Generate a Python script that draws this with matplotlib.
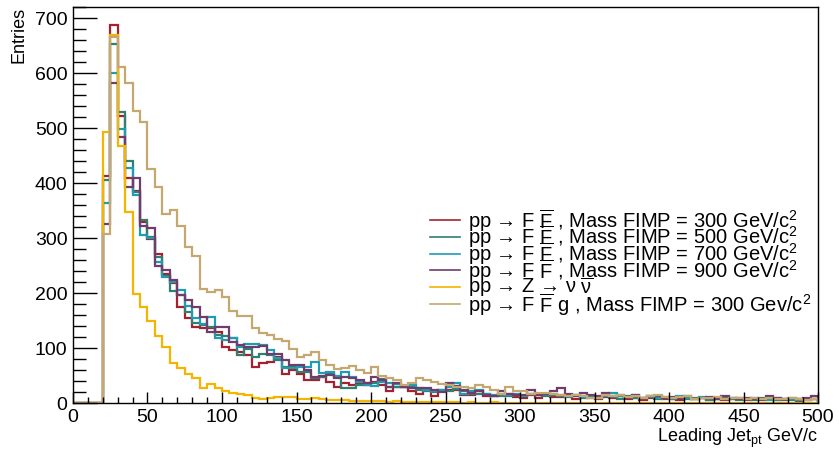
import numpy as np
import matplotlib
matplotlib.use('Agg')
import matplotlib.pyplot as plt

#font setup (ROOT look: helvetica-like)
plt.rcParams['font.family'] = ['Liberation Sans', 'DejaVu Sans']
plt.rcParams['mathtext.fontset'] = 'custom'
plt.rcParams['mathtext.rm'] = 'Liberation Sans'
plt.rcParams['mathtext.it'] = 'Liberation Sans:italic'
plt.rcParams['mathtext.bf'] = 'Liberation Sans:bold'

#bin edges: 100 bins of 5 GeV
edges = np.arange(0, 505, 5)

#leading jet pt entries, one value per bin
fimp300 = [0, 0, 0, 0, 413, 688, 521, 410, 386, 330,
           298, 271, 235, 218, 175, 154, 139, 136, 136, 130,
           102, 96, 93, 87, 65, 72, 75, 84, 53, 60,
           53, 42, 42, 48, 39, 30, 36, 33, 36, 33,
           39, 33, 21, 30, 30, 22, 17, 24, 13, 21,
           24, 24, 14, 14, 21, 13, 12, 14, 16, 11,
           10, 15, 9, 14, 11, 11, 13, 8, 12, 10,
           7, 11, 9, 12, 8, 10, 6, 9, 11, 7,
           8, 6, 10, 7, 9, 5, 8, 6, 7, 9,
           5, 7, 6, 8, 5, 6, 7, 4, 6, 8]

fimp500 = [0, 0, 0, 0, 405, 652, 530, 440, 384, 333,
           302, 266, 231, 204, 196, 166, 145, 142, 139, 123,
           121, 119, 87, 99, 84, 90, 87, 78, 66, 66,
           57, 57, 45, 48, 54, 48, 27, 27, 33, 36,
           36, 44, 30, 29, 30, 30, 24, 22, 20, 24,
           21, 25, 21, 17, 17, 16, 12, 12, 13, 15,
           12, 16, 14, 12, 15, 13, 11, 14, 10, 12,
           9, 13, 11, 8, 12, 10, 9, 11, 7, 10,
           8, 11, 7, 9, 10, 6, 8, 9, 7, 6,
           8, 6, 9, 7, 5, 8, 6, 7, 5, 7]

fimp700 = [0, 0, 0, 0, 364, 600, 499, 428, 378, 306,
           300, 257, 229, 220, 206, 176, 154, 144, 157, 118,
           115, 119, 102, 107, 107, 105, 96, 81, 63, 63,
           66, 66, 75, 54, 57, 49, 57, 48, 39, 33,
           31, 39, 36, 35, 30, 32, 28, 24, 21, 24,
           30, 37, 17, 21, 24, 17, 14, 17, 14, 16,
           13, 16, 14, 17, 16, 15, 12, 15, 11, 13,
           10, 13, 18, 12, 11, 14, 9, 12, 10, 11,
           9, 12, 10, 8, 11, 9, 10, 7, 9, 8,
           7, 10, 8, 6, 9, 7, 8, 6, 7, 8]

fimp900 = [0, 0, 0, 0, 325, 581, 483, 392, 410, 321,
           319, 250, 241, 224, 196, 187, 174, 157, 130, 139,
           139, 111, 105, 102, 102, 103, 90, 90, 78, 69,
           70, 60, 48, 49, 51, 45, 48, 45, 42, 36,
           47, 42, 30, 36, 30, 27, 27, 27, 24, 20,
           36, 31, 24, 19, 22, 14, 13, 21, 17, 15,
           14, 24, 15, 16, 22, 28, 17, 12, 19, 14,
           12, 19, 13, 15, 11, 14, 10, 13, 12, 9,
           11, 9, 12, 8, 10, 11, 8, 13, 9, 7,
           10, 8, 7, 12, 9, 8, 10, 7, 9, 12]

znunu = [0, 0, 0, 0, 493, 670, 468, 347, 199, 174,
         150, 121, 102, 72, 63, 53, 45, 27, 35, 27,
         21, 19, 16, 15, 9, 8, 9, 11, 11, 11,
         8, 7, 9, 7, 6, 5, 5, 4, 4, 4,
         3, 3, 2, 3, 2, 2, 2, 1, 1, 1,
         1, 1, 0, 1, 0, 0, 1, 0, 0, 0,
         0, 0, 0, 0, 0, 0, 0, 0, 0, 0,
         0, 0, 0, 0, 0, 0, 0, 0, 0, 0,
         0, 0, 0, 0, 0, 0, 0, 0, 0, 0,
         0, 0, 0, 0, 0, 0, 0, 0, 0, 0]

fimp300_g = [0, 0, 0, 0, 307, 665, 611, 581, 531, 511,
             426, 392, 344, 351, 322, 284, 268, 207, 201, 205,
             192, 167, 159, 159, 136, 128, 124, 116, 113, 99,
             83, 87, 92, 78, 69, 61, 63, 68, 60, 54,
             65, 49, 45, 41, 33, 36, 45, 41, 38, 35,
             33, 29, 29, 27, 32, 30, 24, 17, 30, 22,
             21, 17, 19, 19, 17, 14, 12, 14, 12, 9,
             9, 14, 12, 15, 11, 13, 10, 12, 14, 11,
             9, 11, 13, 8, 10, 9, 11, 8, 9, 10,
             8, 9, 7, 10, 8, 7, 9, 8, 6, 8]

labels = ['pp \u2192 F $\\overline{\\mathrm{F}}$ , Mass FIMP = 300 GeV/c$^{2}$',
          'pp \u2192 F $\\overline{\\mathrm{F}}$ , Mass FIMP = 500 GeV/c$^{2}$',
          'pp \u2192 F $\\overline{\\mathrm{F}}$ , Mass FIMP = 700 GeV/c$^{2}$',
          'pp \u2192 F $\\overline{\\mathrm{F}}$ , Mass FIMP = 900 GeV/c$^{2}$',
          'pp \u2192 Z \u2192 \u03bd $\\overline{\\mathrm{\u03bd}}$',
          'pp \u2192 F $\\overline{\\mathrm{F}}$ g , Mass FIMP = 300 Gev/c$^{2}$']
colors = ['#a3222e', '#2f7f74', '#1f9cb3', '#6f3c6c', '#f4b400', '#c5a870']
series = [fimp300, fimp500, fimp700, fimp900, znunu, fimp300_g]

fig = plt.figure(figsize=(8.39, 4.49), dpi=100)
ax = fig.add_axes([0.087, 0.1024, 0.888, 0.882])

for vals, col in zip(series, colors):
    ax.stairs(vals, edges, baseline=0, color=col, lw=1.6)

ax.set_xlim(0, 500)
ax.set_ylim(0, 720)
ax.set_xticks(np.arange(0, 501, 50))
ax.set_xticks(np.arange(0, 501, 10), minor=True)
ax.set_yticks(np.arange(0, 701, 100))
ax.set_yticks(np.arange(0, 721, 20), minor=True)
ax.tick_params(axis='x', which='major', direction='in', length=8, width=1, labelsize=14, pad=4)
ax.tick_params(axis='x', which='minor', direction='in', length=4.5, width=1)
ax.tick_params(axis='y', which='major', direction='in', length=17, width=1, labelsize=14, pad=4)
ax.tick_params(axis='y', which='minor', direction='in', length=9, width=1)
for sp in ax.spines.values():
    sp.set_linewidth(1)

ax.set_ylabel('Entries', loc='top', fontsize=13, labelpad=5.5)
ax.set_xlabel(r'Leading Jet$_{\mathrm{pt}}$ GeV/c', loc='right', fontsize=13, labelpad=1)

#legend drawn by hand, ROOT style (tight rows, no frame)
row0 = 0.462
drow = 0.0424
for k, (col, lab) in enumerate(zip(colors, labels)):
    yk = row0 - k * drow
    ax.plot([0.479, 0.5195], [yk, yk], color=col, lw=1.2, transform=ax.transAxes)
    ax.text(0.530, yk, lab, transform=ax.transAxes, fontsize=14.5,
            va='center', ha='left')

fig.savefig('out.png', dpi=100)
